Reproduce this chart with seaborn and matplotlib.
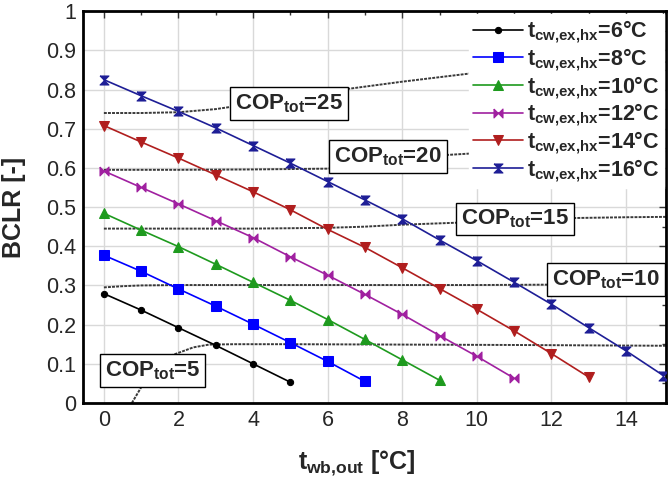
import numpy as np
import pandas as pd
import matplotlib
matplotlib.use('Agg')
import matplotlib.pyplot as plt
from matplotlib.ticker import MultipleLocator
import seaborn as sns

# BCLR vs outdoor wet-bulb temperature, one series per chilled-water temperature
t_6 = [0, 1, 2, 3, 4, 5]
bclr_6 = [0.279, 0.237, 0.192, 0.147, 0.100, 0.053]
t_8 = [0, 1, 2, 3, 4, 5, 6, 7]
bclr_8 = [0.377, 0.336, 0.291, 0.247, 0.201, 0.154, 0.106, 0.055]
t_10 = [0, 1, 2, 3, 4, 5, 6, 7, 8, 9]
bclr_10 = [0.484, 0.441, 0.399, 0.354, 0.308, 0.262, 0.213, 0.162, 0.110, 0.058]
t_12 = [0, 1, 2, 3, 4, 5, 6, 7, 8, 9, 10, 11]
bclr_12 = [0.592, 0.550, 0.508, 0.465, 0.422, 0.373, 0.326, 0.277, 0.226, 0.172, 0.119, 0.063]
t_14 = [0, 1, 2, 3, 4, 5, 6, 7, 8, 9, 10, 11, 12, 13]
bclr_14 = [0.708, 0.666, 0.625, 0.582, 0.539, 0.493, 0.443, 0.397, 0.345, 0.292, 0.239, 0.184, 0.126, 0.066]
t_16 = [0, 1, 2, 3, 4, 5, 6, 7, 8, 9, 10, 11, 12, 13, 14, 15]
bclr_16 = [0.825, 0.784, 0.744, 0.702, 0.657, 0.612, 0.565, 0.518, 0.470, 0.416, 0.363, 0.308, 0.252, 0.192, 0.133, 0.070]

# iso-COP curves
cop25_x = [0, 1, 2, 3, 3.5, 5, 6.5, 8, 10.7, 13, 15.1]
cop25_y = [0.740, 0.740, 0.742, 0.750, 0.757, 0.780, 0.801, 0.820, 0.851, 0.864, 0.870]
cop20_x = [0, 2, 4, 6, 7, 9.2, 9.9, 12, 15.1]
cop20_y = [0.595, 0.595, 0.596, 0.598, 0.610, 0.633, 0.637, 0.640, 0.642]
cop15_x = [0, 2, 4, 6, 7, 8, 9.45, 11, 12.6, 14, 15.1]
cop15_y = [0.445, 0.445, 0.445, 0.447, 0.450, 0.455, 0.460, 0.466, 0.472, 0.474, 0.475]
cop10_x = [0, 0.5, 1, 2, 4, 6, 8, 10, 12, 15.1]
cop10_y = [0.295, 0.298, 0.300, 0.301, 0.301, 0.301, 0.301, 0.301, 0.302, 0.302]
cop5_x = [0.75, 1.0, 1.83, 2.4, 2.82, 3.5, 5, 8, 11, 15.1]
cop5_y = [0.0, 0.04, 0.122, 0.142, 0.149, 0.150, 0.150, 0.149, 0.148, 0.146]

cop_labels = ['25', '20', '15', '10', '5']
cop_label_x = [4.97, 7.62, 11.02, 13.46, 1.31]
cop_label_y = [0.764, 0.629, 0.470, 0.315, 0.083]

series_names = ['6', '8', '10', '12', '14', '16']

sns.set_style('white')
plt.rcParams['font.family'] = ['Liberation Sans', 'DejaVu Sans']
plt.rcParams['mathtext.fontset'] = 'custom'
plt.rcParams['mathtext.rm'] = 'Liberation Sans:bold'
plt.rcParams['mathtext.it'] = 'Liberation Sans:bold'
plt.rcParams['mathtext.bf'] = 'Liberation Sans:bold'

fig = plt.figure(figsize=(6.71, 4.84), dpi=100)
ax = fig.add_axes([0.1237, 0.1674, 0.8688, 0.8096])

# iso-COP curves underneath
for cx, cy in [(cop25_x, cop25_y), (cop20_x, cop20_y), (cop15_x, cop15_y),
               (cop10_x, cop10_y), (cop5_x, cop5_y)]:
    sns.lineplot(x=cx, y=cy, ax=ax, color='#3a3a3a', lw=1.4, linestyle=(0, (1.5, 0.6)),
                 sort=False, estimator=None, zorder=2)

bowtie_h = [(-1, 1), (-1, -1), (1, 1), (1, -1), (-1, 1)]
bowtie_v = [(-1, 1), (1, 1), (-1, -1), (1, -1), (-1, 1)]

series = [
    (t_6, bclr_6, 'black', 'o', 4.5),
    (t_8, bclr_8, '#0000ff', 's', 7),
    (t_10, bclr_10, '#1e9a1e', '^', 7),
    (t_12, bclr_12, '#a020a0', bowtie_h, 6.5),
    (t_14, bclr_14, '#b01e1e', 'v', 7),
    (t_16, bclr_16, '#1e1e96', bowtie_v, 6.5),
]
for (x, y, c, m, ms), name in zip(series, series_names):
    sns.lineplot(x=x, y=y, ax=ax, color=c, marker=m, markersize=ms,
                 markeredgecolor=c, markerfacecolor=c, lw=1.2,
                 label=r'$t_{cw{,}ex{,}hx}$=' + name + '°C', zorder=3)

for lab, lx, ly in zip(cop_labels, cop_label_x, cop_label_y):
    ax.text(lx, ly, r'COP$_{tot}$=' + lab, ha='center', va='center',
            fontsize=16, fontweight='bold', zorder=5,
            bbox=dict(boxstyle='square,pad=0.22', fc='white', ec='black', lw=1.0))

ax.set_xlim(-0.56, 15.07)
ax.set_ylim(0, 1)
ax.xaxis.set_major_locator(MultipleLocator(2))
ax.xaxis.set_minor_locator(MultipleLocator(1))
ax.yaxis.set_major_locator(MultipleLocator(0.1))
ax.yaxis.set_minor_locator(MultipleLocator(0.05))
ax.set_yticks(np.arange(0, 1.01, 0.1))
ax.set_yticklabels(['0', '0.1', '0.2', '0.3', '0.4', '0.5', '0.6', '0.7', '0.8', '0.9', '1'])
ax.grid(True, which='major', color='#d9d9d9', lw=1.0)
ax.tick_params(which='both', direction='in', top=True, right=True, labelsize=15.5,
               width=1.0, color='#333333')
ax.tick_params(which='major', length=5, pad=5)
ax.tick_params(which='minor', length=3)
for s in ax.spines.values():
    s.set_linewidth(2)
    s.set_color('black')

ax.set_xlabel(r'$t_{wb{,}out}$ [°C]', fontsize=18, fontweight='bold')
ax.xaxis.set_label_coords(0.47, -0.117)
ax.set_ylabel('BCLR [-]', fontsize=18, fontweight='bold')
ax.yaxis.set_label_coords(-0.098, 0.5)

leg = ax.legend(loc='upper left', bbox_to_anchor=(0.662, 0.992),
                prop={'weight': 'bold', 'size': 15.5}, frameon=True, fancybox=False,
                handlelength=2.3, handletextpad=0.2, labelspacing=0.04,
                borderpad=0.2, borderaxespad=0.0)
leg.get_frame().set_edgecolor('white')
leg.get_frame().set_alpha(1)
leg.set_zorder(6)

fig.savefig('out.png', dpi=100)
